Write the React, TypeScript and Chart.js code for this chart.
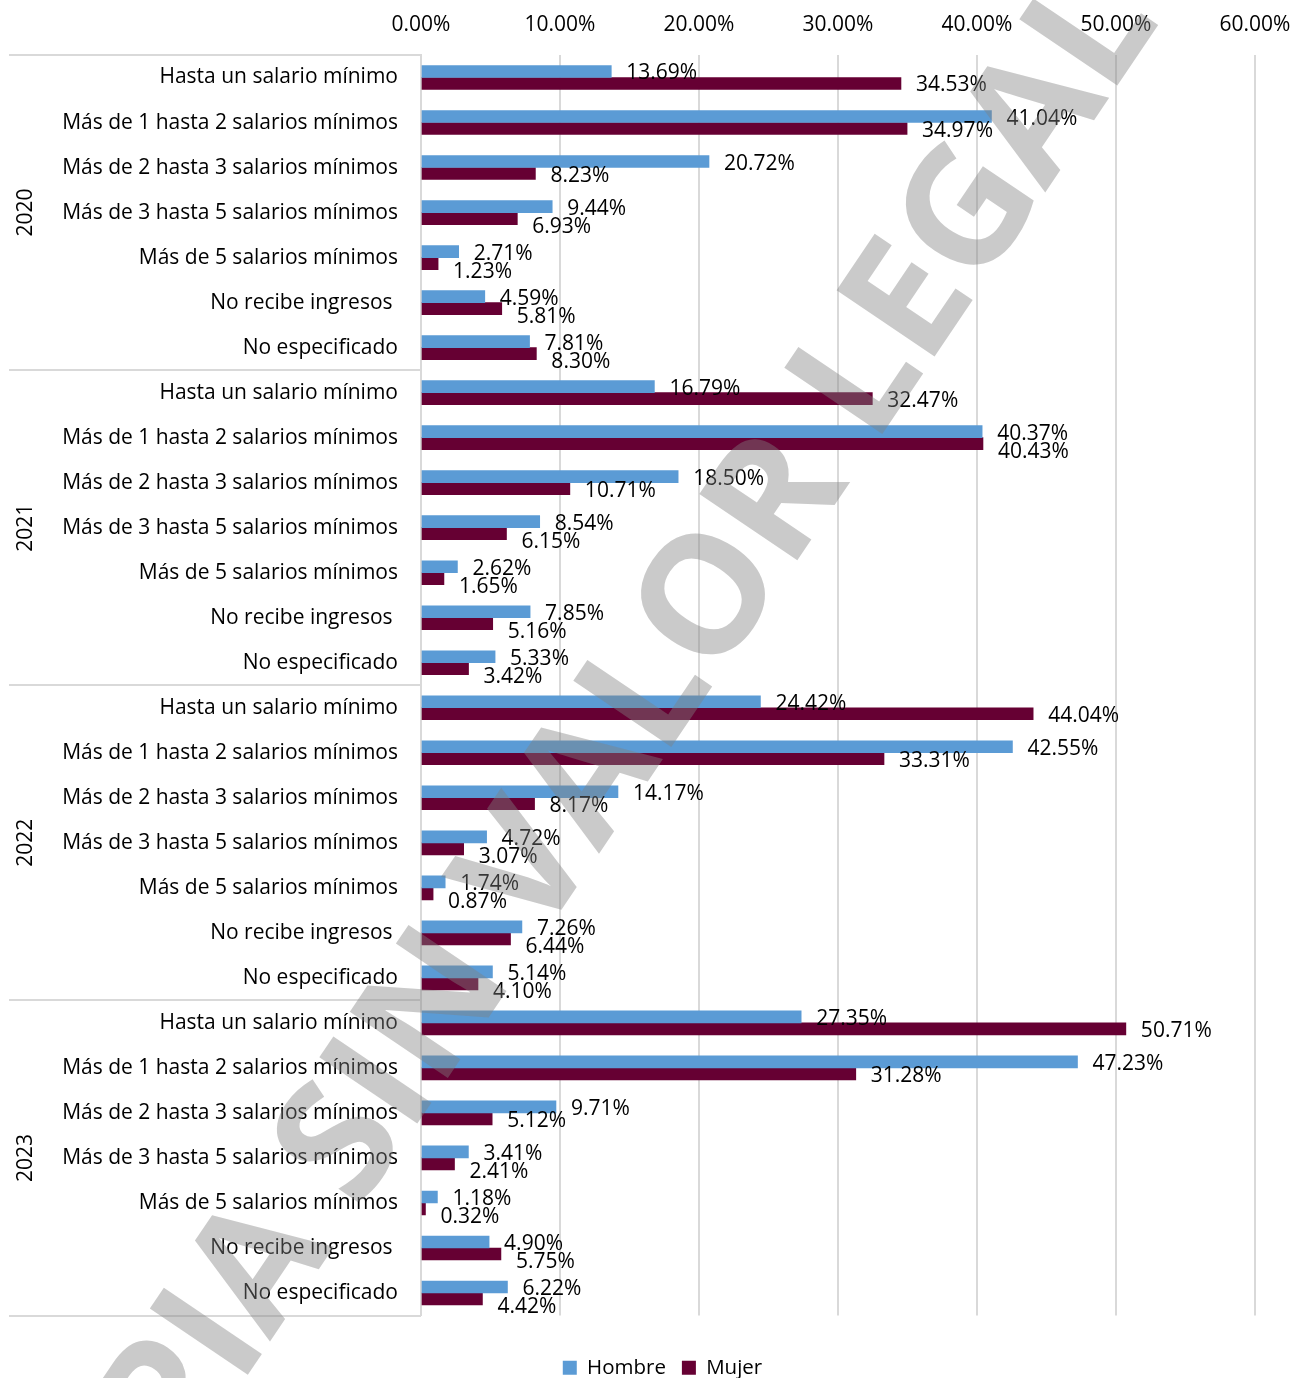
import React, { useEffect, useRef } from 'react';
import { Chart, registerables } from 'chart.js';

Chart.register(...registerables);

// ---------- data ----------
const years = ['2020', '2021', '2022', '2023'];
const brackets = [
  'Hasta un salario mínimo',
  'Más de 1 hasta 2 salarios mínimos',
  'Más de 2 hasta 3 salarios mínimos',
  'Más de 3 hasta 5 salarios mínimos',
  'Más de 5 salarios mínimos',
  'No recibe ingresos ',
  'No especificado',
];
const hombre2020 = [13.69, 41.04, 20.72, 9.44, 2.71, 4.59, 7.81];
const mujer2020 = [34.53, 34.97, 8.23, 6.93, 1.23, 5.81, 8.3];
const hombre2021 = [16.79, 40.37, 18.5, 8.54, 2.62, 7.85, 5.33];
const mujer2021 = [32.47, 40.43, 10.71, 6.15, 1.65, 5.16, 3.42];
const hombre2022 = [24.42, 42.55, 14.17, 4.72, 1.74, 7.26, 5.14];
const mujer2022 = [44.04, 33.31, 8.17, 3.07, 0.87, 6.44, 4.1];
const hombre2023 = [27.35, 47.23, 9.71, 3.41, 1.18, 4.9, 6.22];
const mujer2023 = [50.71, 31.28, 5.12, 2.41, 0.32, 5.75, 4.42];
const xTicks = [0, 10, 20, 30, 40, 50, 60];
const seriesNames = ['Hombre', 'Mujer'];
const watermarkText = 'COPIA SIN VALOR LEGAL';

// ---------- styling ----------
const FONT = '"Open Sans", "Noto Sans", sans-serif';
const TEXT = '#000000';
const BLUE = '#5B9BD5';
const MAROON = '#660033';
const GRID = '#d9d9d9';

const labels = years.flatMap(() => brackets);
const hombre = [...hombre2020, ...hombre2021, ...hombre2022, ...hombre2023];
const mujer = [...mujer2020, ...mujer2021, ...mujer2022, ...mujer2023];
const groupSize = brackets.length;

const decorPlugin = {
  id: 'decor',
  afterLayout(chart: any) {
    // let long category labels extend left of the axis box without clipping
    chart.scales.y.left = 20;
  },
  afterDatasetsDraw(chart: any) {
    const ctx = chart.ctx;
    const m0 = chart.getDatasetMeta(0);
    const m1 = chart.getDatasetMeta(1);
    const d0 = chart.data.datasets[0].data as number[];
    const d1 = chart.data.datasets[1].data as number[];
    ctx.save();
    ctx.font = `21px ${FONT}`;
    ctx.fillStyle = TEXT;
    ctx.textAlign = 'left';
    ctx.textBaseline = 'middle';
    for (let i = 0; i < d0.length; i++) {
      const e0 = m0.data[i];
      const e1 = m1.data[i];
      const t0 = d0[i].toFixed(2) + '%';
      const t1 = d1[i].toFixed(2) + '%';
      const x0 = e0.x + 15;
      const y0 = e0.y + 2;
      const w0 = ctx.measureText(t0).width;
      const x1 = e1.x + 15;
      let y1 = e1.y + 2;
      const w1 = ctx.measureText(t1).width;
      if (x1 < x0 + w0 && x0 < x1 + w1 && y1 - y0 < 18) y1 = y0 + 18;
      ctx.fillText(t0, x0, y0);
      ctx.fillText(t1, x1, y1);
    }
    ctx.restore();
  },
  afterDraw(chart: any) {
    const ctx = chart.ctx;
    const yScale = chart.scales.y;
    const area = chart.chartArea;
    ctx.save();
    // group separators
    ctx.strokeStyle = GRID;
    ctx.lineWidth = 2;
    for (let g = 0; g <= years.length; g++) {
      const y = Math.round(yScale.getPixelForValue(g * groupSize - 0.5));
      ctx.beginPath();
      ctx.moveTo(9, y);
      ctx.lineTo(area.left, y);
      ctx.stroke();
    }
    // year labels
    ctx.fillStyle = TEXT;
    ctx.font = `21px ${FONT}`;
    ctx.textAlign = 'center';
    ctx.textBaseline = 'middle';
    years.forEach((yr, g) => {
      const yc = yScale.getPixelForValue(g * groupSize + (groupSize - 1) / 2);
      ctx.save();
      ctx.translate(26.5, yc);
      ctx.rotate(-Math.PI / 2);
      ctx.fillText(yr, 0, 0);
      ctx.restore();
    });
    // watermark
    ctx.font = `bold 100px ${FONT}`;
    const w100 = ctx.measureText(watermarkText).width;
    const size = (1990 / w100) * 100;
    ctx.font = `bold ${size}px ${FONT}`;
    ctx.fillStyle = 'rgba(128,128,128,0.42)';
    ctx.textAlign = 'center';
    ctx.textBaseline = 'alphabetic';
    ctx.translate(556, 812);
    ctx.rotate((-56 * Math.PI) / 180);
    ctx.fillText(watermarkText, 0, (size * 0.714) / 2);
    ctx.restore();
  },
};

export default function App() {
  const ref = useRef<HTMLCanvasElement | null>(null);

  useEffect(() => {
    if (!ref.current) return;
    Chart.defaults.font.family = FONT;
    Chart.defaults.color = TEXT;
    const chart = new Chart(ref.current, {
      type: 'bar',
      data: {
        labels,
        datasets: [
          { label: seriesNames[0], data: hombre, backgroundColor: BLUE, borderWidth: 0, barThickness: 12 },
          { label: seriesNames[1], data: mujer, backgroundColor: MAROON, borderWidth: 0, barThickness: 12 },
        ],
      },
      options: {
        indexAxis: 'y',
        responsive: false,
        animation: false,
        devicePixelRatio: 1,
        layout: { padding: { left: 70, right: 38, top: 0, bottom: -10 } },
        scales: {
          x: {
            position: 'top',
            min: 0,
            max: 60,
            afterBuildTicks: (scale: any) => {
              scale.ticks = xTicks.map((v) => ({ value: v }));
            },
            afterFit: (scale: any) => {
              scale.height = 55;
              scale.paddingLeft = 0;
              scale.paddingRight = 0;
            },
            ticks: {
              callback: (v: any) => Number(v).toFixed(2) + '%',
              font: { family: FONT, size: 21 },
              color: TEXT,
              padding: 17,
              maxRotation: 0,
              autoSkip: false,
            },
            grid: { color: GRID, lineWidth: 2, drawTicks: false },
            border: { display: false },
          },
          y: {
            afterFit: (scale: any) => {
              scale.width = 351;
              scale.paddingTop = 0;
              scale.paddingBottom = 0;
            },
            ticks: {
              font: { family: FONT, size: 21 },
              color: TEXT,
              padding: 23,
              autoSkip: false,
            },
            grid: { display: false, drawTicks: false },
            border: { display: true, color: GRID, width: 2 },
          },
        },
        plugins: {
          legend: {
            position: 'bottom',
            title: { display: true, text: '', padding: 0, font: { size: 26, lineHeight: 1 } },
            labels: {
              boxWidth: 14,
              boxHeight: 14,
              padding: 16,
              color: TEXT,
              font: { family: FONT, size: 20.5 },
            },
          },
          tooltip: { enabled: false },
        },
      } as any,
      plugins: [decorPlugin],
    });
    return () => chart.destroy();
  }, []);

  return (
    <div style={{ position: 'fixed', left: 0, top: 0, width: 1293, height: 1378, background: '#fff' }}>
      <canvas ref={ref} width={1293} height={1378} style={{ display: 'block' }} />
    </div>
  );
}
